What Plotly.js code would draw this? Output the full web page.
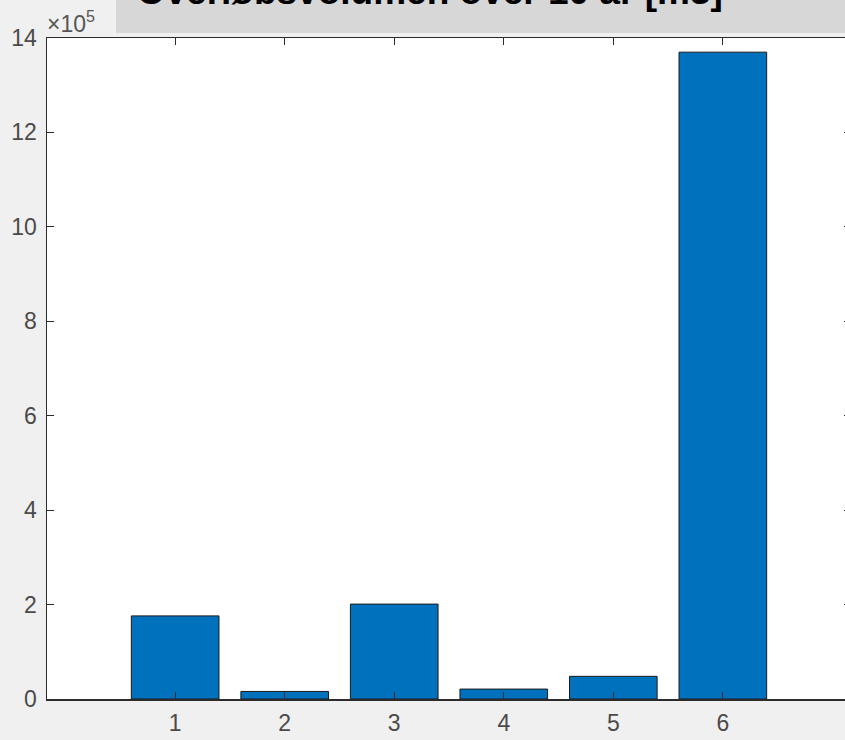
<!DOCTYPE html>
<html>
<head>
<meta charset="utf-8">
<script src="https://cdn.plot.ly/plotly-3.0.1.min.js"></script>
<style>
  html, body { margin: 0; padding: 0; overflow: hidden; background: #f0f0f0; }
  #chart { width: 851px; height: 740px; }
</style>
</head>
<body>
<div id="chart"></div>
<script>
// Overflow volume per outlet, 10-year total (m³)
const outlets = [1, 2, 3, 4, 5, 6];
const volumes = [176000, 16000, 201000, 21000, 48000, 1370000];

// Y ticks shown in units of 10^5
const yTickVals = [0, 200000, 400000, 600000, 800000, 1000000, 1200000, 1400000];
const yTickText = ['0', '2', '4', '6', '8', '10', '12', '14'];
const xTickVals = [1, 2, 3, 4, 5, 6];
const xTickText = ['1', '2', '3', '4', '5', '6'];

const titleText = 'Overløbsvolumen over 10 år [m3]';

const trace = {
  type: 'bar',
  x: outlets,
  y: volumes,
  width: 0.8,
  marker: { color: '#0072BD', line: { color: '#1a1a1a', width: 1 } },
  hoverinfo: 'x+y'
};

const axisCommon = {
  showline: true,
  linecolor: '#2b2b2b',
  linewidth: 1.5,
  mirror: 'allticks',
  ticks: 'inside',
  ticklen: 7,
  tickwidth: 1,
  tickcolor: '#2b2b2b',
  showgrid: false,
  zeroline: false,
  tickfont: { family: 'Liberation Sans, Arial, sans-serif', size: 23, color: '#4a4a4a' }
};

const layout = {
  width: 851,
  height: 740,
  margin: { l: 47, r: 0, t: 38, b: 41 },
  paper_bgcolor: '#f0f0f0',
  plot_bgcolor: '#ffffff',
  showlegend: false,
  xaxis: Object.assign({}, axisCommon, {
    range: [-0.17, 7.17],
    tickmode: 'array',
    tickvals: xTickVals,
    ticktext: xTickText,
    ticklabelstandoff: 3
  }),
  yaxis: Object.assign({}, axisCommon, {
    range: [0, 1400000],
    tickmode: 'array',
    tickvals: yTickVals,
    ticktext: yTickText,
    ticklabelstandoff: 4
  }),
  title: {
    text: '<b>' + titleText + '</b>',
    font: { family: 'Liberation Sans, Arial, sans-serif', size: 37, color: '#000000' },
    xref: 'container',
    yref: 'container',
    x: 0.505,
    xanchor: 'center',
    y: 0.994,
    yanchor: 'bottom'
  },
  shapes: [
    // grey band behind the title
    {
      type: 'rect', xref: 'paper', yref: 'paper',
      x0: 0.0858, x1: 1.02, y0: 1.0076, y1: 1.07,
      fillcolor: '#d7d7d7', line: { width: 0 }, layer: 'above'
    }
  ],
  annotations: [
    {
      text: '×10<sup>5</sup>',
      xref: 'paper', yref: 'paper',
      x: 0, y: 1.0076,
      xanchor: 'left', yanchor: 'bottom',
      xshift: -2, yshift: -6,
      showarrow: false,
      font: { family: 'Liberation Sans, Arial, sans-serif', size: 23, color: '#555555' }
    }
  ]
};

Plotly.newPlot('chart', [trace], layout, { displayModeBar: false, staticPlot: true });
</script>
</body>
</html>
